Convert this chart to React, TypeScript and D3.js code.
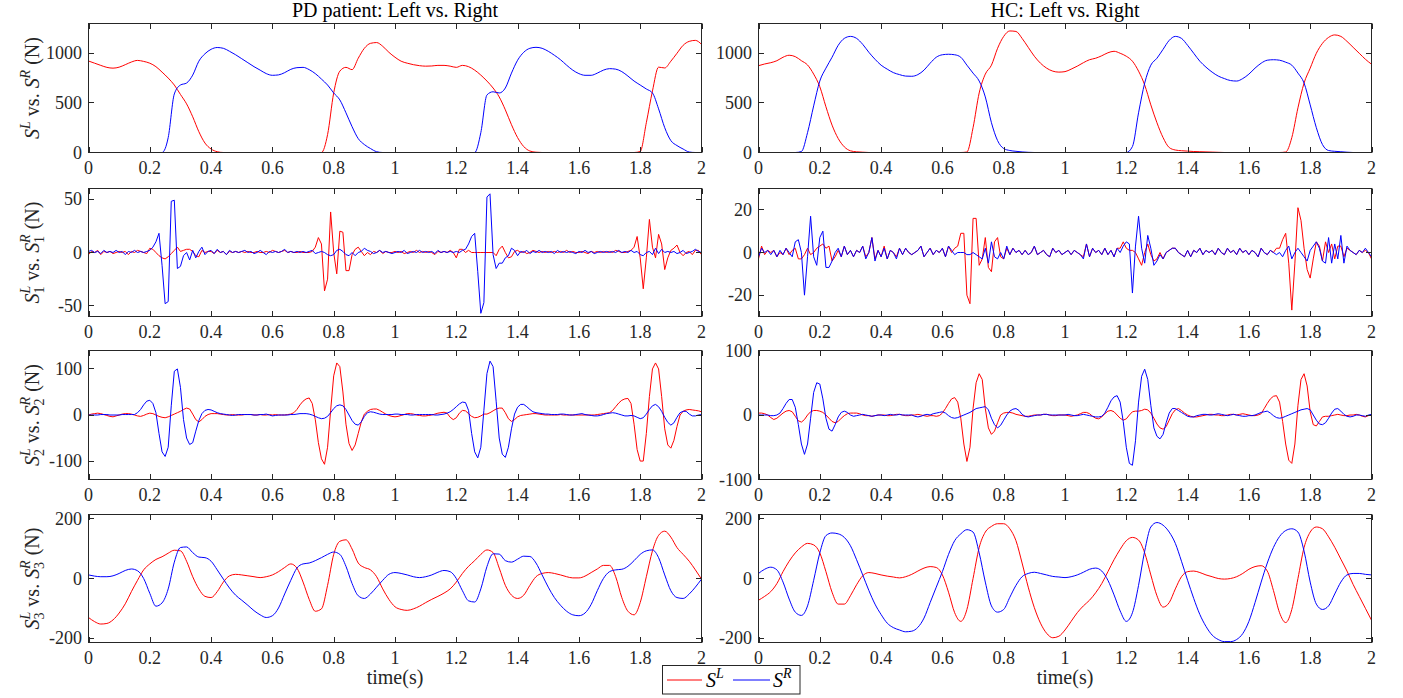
import React from 'react';
import * as d3 from 'd3';

// ---------------- data ----------------
const timeTicks = [0, 0.2, 0.4, 0.6, 0.8, 1, 1.2, 1.4, 1.6, 1.8, 2];
const timeTickLabels = ['0', '0.2', '0.4', '0.6', '0.8', '1', '1.2', '1.4', '1.6', '1.8', '2'];
const coarseStep = 0.02; // rows 1 and 4
const fineStep = 0.01; // rows 2 and 3

// Row 1: S (N), PD patient
const pdS_L = [922, 900, 878, 858, 850, 860, 885, 912, 928, 918, 900, 865, 810, 750, 680, 585, 490, 360, 210, 95, 35, 8, 0,
  0, 0, 0, 0, 0, 0, 0, 0, 0, 0, 0, 0, 0, 0, 0, 0,
  180, 600, 820, 858, 835, 950, 1050, 1100, 1108, 1070, 1010, 960, 920, 900, 885, 875, 870, 872, 878, 878, 870, 858, 878, 865, 830, 780, 720, 650, 560, 430, 280, 150, 60, 15, 3, 0,
  0, 0, 0, 0, 0, 0, 0, 0, 0, 0, 0, 0, 0, 0, 0,
  10, 300, 620, 860, 852, 920, 1000, 1080, 1120, 1130, 1090];
const pdS_R = [0, 0, 0, 0, 0, 0, 0, 0, 0, 0, 0, 0, 0,
  150, 590, 680, 700, 780, 920, 995, 1040, 1058, 1050, 1020, 985, 945, 905, 865, 830, 795, 778, 782, 805, 838, 855, 858, 835, 795, 740, 680, 600, 530, 400, 260, 140, 80, 40, 8, 0,
  0, 0, 0, 0, 0, 0, 0, 0, 0, 0, 0, 0, 0, 0, 0,
  200, 580, 612, 600, 650, 800, 930, 1010, 1050, 1060, 1050, 1020, 980, 935, 880, 830, 795, 778, 778, 800, 830, 845, 840, 815, 770, 720, 680, 640, 600, 440, 250, 120, 70, 35, 5, 0, 0];
// Row 1: S (N), HC
const hcS_L = [875, 892, 905, 925, 960, 980, 966, 925, 882, 790, 663, 461, 276, 141, 57, 17, 7, 3,
  0, 0, 0, 0, 0, 0, 0, 0, 0, 0, 0, 0, 0, 0, 0, 0,
  5, 250, 600, 790, 880, 1050, 1170, 1225, 1220, 1150, 1060, 970, 900, 850, 820, 810, 815, 840, 870, 905, 935, 950, 975, 1005, 1020, 1000, 970, 920, 820, 680, 480, 300, 150, 50, 25, 18, 14, 10, 8, 6, 4, 2,
  0, 0, 0, 0, 0, 0, 0, 0, 0, 0,
  5, 150, 450, 700, 850, 1000, 1100, 1160, 1185, 1170, 1120, 1060, 1000, 940, 890];
const hcS_R = [0, 0, 0, 0, 0, 0, 0,
  10, 200, 470, 720, 850, 960, 1080, 1150, 1170, 1150, 1090, 1010, 940, 880, 840, 805, 785, 770, 768, 785, 830, 900, 960, 985, 990, 985, 960, 880, 800, 720, 560, 300, 120, 40, 20, 12, 6, 2,
  0, 0, 0, 0, 0, 0, 0, 0, 0, 0, 0, 0, 0, 0, 0,
  0, 60, 400, 700, 880, 950, 1040, 1130, 1170, 1150, 1080, 1000, 920, 860, 810, 770, 745, 725, 720, 745, 790, 850, 900, 930, 935, 930, 910, 880, 800, 700, 480, 250, 80, 20, 12, 8, 3, 0, 0, 0, 0];

// Row 2: S1 (N)
const pdS1_L = [
  -2, 1, 0, 2, -2, 1, 0, 1, -1, 0,
  1, 0, 1, -2, 1, 0, 2, 1, 0, -1,
  4, 3, 0, -3, -5, -6, -4, -1, 2, 5,
  1, 2, 3, 3, 1, -3, -4, 2, 0, 1,
  1, -1, 2, 0, 1, -2, 1, 0, 1, 0,
  1, 0, 1, 0, 0, 1, 0, 0, 1, 0,
  2, 1, 0, 1, 2, 0, 1, 0, 0, 1,
  0, 0, 0, 1, 5, 14, 8, -36, -25, 38,
  0, -20, 20, 19, -17, -17, -2, 3, 5, 1,
  -3, 0, -2, 1, 0, 2, -1, 1, 0, 0,
  1, 0, 1, -1, 0, 1, 0, 2, 0, 1,
  0, 1, 0, -2, 1, 0, 1, 0, 2, 0,
  -5, 3, 3, 0, 2, 0, 0, 0, 0, 0,
  0, 0, 0, -3, 3, 6, 0, -5, -4, 1,
  2, 0, 1, -1, 0, 2, 1, 0, 1, 0,
  1, 0, 1, 0, 1, 0, 2, 0, 1, 0,
  0, 1, 0, -1, 1, 0, 1, 0, 1, 0,
  1, 0, 2, 1, 0, 0, 1, 2, 5, 15,
  -5, -34, -5, 31, 5, -5, 17, 8, -16, -5,
  2, 4, 7, 0, -3, 0, 1, -2, 2, 2,
  -2];
const pdS1_R = [
  1, 2, 0, 1, -1, 2, 0, 1, 0, 2,
  0, 1, -2, 1, 0, 2, 0, 1, 0, 1,
  2, 5, 10, 18, -12, -48, -46, 48, 49, -15,
  -13, -3, 0, -7, 2, -5, 1, 5, -2, 1,
  2, -1, 3, 0, 1, -2, 2, 0, 1, 0,
  1, 2, 0, 1, -1, 0, 2, 0, -2, 1,
  0, 1, 0, 1, 3, 0, 1, 0, 1, 0,
  1, 0, 1, 2, -1, 0, 1, 0, -2, -3,
  -2, 2, 3, 1, -2, -3, 0, -3, 0, 1,
  4, 2, 1, -1, 0, 2, 0, 1, 0, -1,
  0, 1, 0, 2, -1, 0, 1, 0, 2, 0,
  1, 0, 1, -1, 2, 0, 1, 0, 1, 0,
  1, 0, 2, 3, 8, 15, 18, -18, -57, -47,
  52, 55, -2, -15, -10, -10, -5, -3, 4, 2,
  -3, 1, 0, 2, -1, 1, 0, 2, 0, 1,
  0, 1, -1, 2, 0, 1, 0, 1, 0, -1,
  1, 0, 2, 0, 1, -1, 0, 1, 0, 1,
  0, 1, 0, 2, 0, 1, 0, 2, 0, 1,
  -2, -3, 0, 1, -2, 4, -1, 3, 0, 1,
  0, 1, -1, 0, 2, -1, 0, 1, 3, 1,
  0];
const hcS1_L = [
  -3, 3, -1, 1, 0, 1, -2, 0, -1, 2,
  -1, 1, 2, -3, -3, -1, 2, -1, 0, 2,
  3, 4, 2, 3, -4, -2, 1, -2, 3, -1,
  1, -2, 1, 0, 3, -2, 0, 7, -3, 1,
  -2, 3, -3, 1, 0, -2, 2, -1, 2, 0,
  -1, 0, 1, 3, -2, 0, 2, -1, 1, 0,
  2, -2, 3, 0, 2, 3, 9, 9, -20, -24,
  16, 16, -6, -3, 7, -7, -9, 5, 7, -2,
  -3, 2, -1, 2, 0, 1, -1, 1, -1, 0,
  3, -1, 0, 1, -1, -2, 2, 0, 1, -1,
  0, 1, -1, 1, 0, -1, -2, 4, -2, 2,
  0, 1, -1, 2, -1, 1, -2, 2, 2, 5,
  2, 1, 1, 0, -3, -6, 0, 4, -1, -4,
  -3, 0, -3, 0, 1, 2, 2, 0, -1, -2,
  1, -2, 1, 0, 2, -1, 1, 0, 1, -1,
  2, 0, -1, 2, 0, 1, -1, 2, 0, 1,
  -1, 1, 0, -2, 2, 0, -1, 1, 0, 2,
  2, 6, 9, -5, -27, -5, 21, 15, 2, -8,
  -12, -3, 5, 3, -4, 5, 0, 4, -3, 3,
  3, -2, 2, 1, 0, -1, 1, 0, 1, 0,
  -3];
const hcS1_R = [
  -2, 2, 0, 1, -1, 1, -2, 1, -1, 2,
  0, -2, 5, 6, 0, -20, -2, 17, -2, -6,
  7, 10, -7, -7, -4, 0, 2, -2, 3, -1,
  1, -2, 1, 0, 3, -3, 0, 7, -4, 1,
  -2, 2, -3, 1, 0, -3, 2, -1, 2, 0,
  -1, 0, 1, 3, -2, 0, 2, -1, 1, 0,
  2, -2, 3, 1, -1, 0, 0, 0, -1, -1,
  0, -1, -2, -3, 2, -5, 5, -2, -3, 0,
  -3, 3, -1, 2, 0, 1, -1, 1, -1, 0,
  3, -1, 0, 1, -1, -2, 2, 0, 1, -1,
  0, 1, -1, 1, 0, -1, -3, 4, -2, 2,
  0, 1, -1, 2, -1, 1, -2, 2, 0, 3,
  5, 4, -19, 3, 17, 2, -5, 8, 2, -6,
  -4, -1, -3, 0, 1, 2, 2, 0, -1, -2,
  1, -2, 1, 0, 2, -1, 1, 0, 1, -1,
  2, 0, -1, 2, 0, 1, -1, 2, 0, 1,
  -1, 1, 0, -2, 2, 0, -1, 1, 0, -1,
  0, -2, 1, 3, -3, 0, 2, 0, -2, -4,
  1, 3, 5, 2, -4, -5, 7, -5, 4, -3,
  8, -5, 3, 1, 0, -1, 1, 0, 2, 0,
  -2];

// Row 3: S2 (N)
const pdS2_L = [
  0, 2, 3, 4, 3, 1, -1, -3, -4, -2,
  0, 2, 3, 3, 2, 0, -2, -3, -1, 2,
  4, 3, 0, -3, -5, -6, -4, -1, 2, 5,
  8, 12, 15, 13, 2, -10, -15, -10, -3, 1,
  3, 3, 3, 2, 1, 0, 0, 1, 0, 0,
  0, 1, 1, 1, 0, 0, 1, 0, 0, 1,
  0, 1, 0, 0, 0, 1, 2, 5, 12, 22,
  30, 35, 37, 25, -10, -60, -95, -107, -70, 10,
  85, 113, 105, 50, -20, -62, -77, -65, -40, -15,
  2, 8, 12, 13, 13, 10, 6, 2, -1, -3,
  -4, -3, -1, 1, 3, 3, 2, 0, -1, -2,
  -2, -1, 0, 2, 4, 5, 6, 4, -5, -10,
  -6, 4, 10, 9, 3, -3, -6, -5, -2, 2,
  2, 5, 9, 13, 15, 15, 5, -8, -14, -10,
  -4, -1, 0, 1, 2, 3, 3, 2, 1, 0,
  0, 0, 0, 0, 1, 0, 0, 0, 0, 0,
  0, 0, 0, 0, 0, 0, 1, 2, 3, 4,
  5, 10, 18, 26, 32, 35, 36, 25, -20, -75,
  -100, -100, -40, 40, 100, 113, 100, 40, -30, -65,
  -72, -55, -25, 0, 8, 11, 12, 11, 10, 9,
  7];
const pdS2_R = [
  0, 0, 0, 0, 1, 1, 1, 0, 0, 0,
  0, 1, 1, 1, 1, 1, 5, 12, 22, 30,
  32, 25, 5, -40, -80, -90, -70, 20, 95, 100,
  60, -10, -50, -64, -60, -35, -12, 3, 10, 12,
  11, 8, 5, 3, 2, 1, 0, -1, 0, 1,
  1, 1, 1, 1, 0, 0, 1, 1, 2, 0,
  -2, -1, 0, 0, 0, 0, 1, 1, 2, 3,
  3, 3, 2, 0, -3, -6, -8, -7, -3, 5,
  14, 20, 22, 20, 12, 0, -12, -20, -22, -15,
  -3, 5, 7, 6, 4, 2, 1, 1, 1, 1,
  2, 2, 1, 1, 1, 0, 0, 1, 1, 1,
  1, 1, 1, 0, 0, 1, 2, 4, 7, 12,
  18, 24, 28, 27, 10, -40, -80, -93, -70, 10,
  90, 117, 105, 30, -50, -85, -92, -70, -30, 2,
  17, 23, 23, 18, 12, 7, 5, 4, 3, 2,
  2, 1, 1, 1, 2, 2, 1, 0, 0, 1,
  2, 3, 1, 0, -1, -2, -2, -1, 1, 3,
  4, 5, 4, 2, 0, -2, -2, -1, -2, -5,
  -8, -6, 2, 12, 20, 23, 18, 8, -5, -16,
  -22, -17, -5, 5, 8, 8, 2, -2, -2, 0,
  1];
const hcS2_L = [
  3, 3, 2, 0, -4, -7, -5, -1, 3, 6,
  7, 5, -2, -9, -11, -7, 0, 5, 7, 7,
  6, 4, 0, -5, -10, -12, -10, -5, -1, 2,
  3, 3, 3, 2, 0, -1, -1, -2, -1, 0,
  0, 0, -1, -1, 0, 1, 1, 0, -1, -1,
  0, 0, 1, 0, -1, -2, -1, -1, -2, -1,
  3, 10, 18, 25, 27, 20, -5, -45, -72, -50,
  10, 50, 64, 55, 10, -20, -30, -25, -12, 0,
  3, 4, 4, 3, 1, 0, -1, -2, -2, -1,
  0, 0, 0, 1, 1, 0, -1, -1, 0, 0,
  0, -1, -2, -1, 0, 2, 4, 4, 2, -2,
  -5, -6, -3, 2, 6, 7, 5, 0, -5, -8,
  -6, 0, 5, 6, 6, 7, 9, 8, 3, -5,
  -14, -20, -22, -18, -8, 2, 8, 10, 7, 3,
  0, -2, -3, -3, -2, -1, 0, 1, 1, 0,
  0, -1, -1, 0, 1, 1, 0, 1, 2, 1,
  0, -1, -1, 0, 2, 10, 18, 25, 29, 30,
  20, -10, -45, -70, -75, -45, 15, 55, 64, 45,
  5, -15, -17, -10, -3, -2, -2, -1, 0, 1,
  0, -1, -1, 0, 0, 1, 0, -2, -3, -1,
  0];
const hcS2_R = [
  0, 0, 0, 0, -1, -1, 0, 3, 10, 18,
  24, 24, 12, -15, -45, -61, -45, -5, 35, 50,
  48, 25, -5, -22, -25, -15, -3, 4, 6, 4,
  0, -2, -1, 0, 1, 0, -1, -2, -1, 0,
  0, -1, 0, 1, 0, 0, 1, 0, 0, 0,
  0, -2, -3, -2, 0, 1, 0, 2, 3, 4,
  5, 3, -1, -4, -5, -4, -2, 0, 2, 4,
  7, 10, 11, 12, 13, 8, -5, -15, -20, -16,
  -8, 0, 6, 9, 10, 7, 1, -2, -3, -2,
  -1, 0, 0, 1, 1, 0, 0, 0, 0, 0,
  0, 1, 0, -1, -1, 0, 1, 0, -1, -2,
  -3, -3, -2, 3, 12, 22, 28, 30, 20, -10,
  -50, -75, -78, -40, 20, 60, 71, 55, 15, -20,
  -33, -37, -30, -12, 3, 10, 10, 7, 4, 1,
  -2, -3, -3, -1, 0, 1, 1, 0, 0, 1,
  2, 1, 0, -1, 0, 1, 0, -1, -2, -2,
  -1, -1, 0, 2, 4, 5, 6, 3, -1, -4,
  -5, -4, -2, 0, 2, 4, 6, 8, 9, 10,
  8, 0, -8, -14, -15, -12, -5, 3, 9, 10,
  6, 1, -2, -3, -2, 0, 0, -1, -2, 0,
  1];

// Row 4: S3 (N)
const pdS3_L = [
  -131, -145, -153, -151, -139, -116, -85, -44, -6, 29,
  49, 64, 73, 85, 95, 93, 58, 6, -35, -60,
  -64, -44, -12, 9, 14, 12, 9, 6, 3, 6,
  12, 23, 37, 49, 35, -12, -70, -110, -102, -23,
  81, 125, 130, 99, 52, 37, 29, 6, -35, -70,
  -95, -104, -107, -102, -93, -81, -70, -60, -49, -35,
  -12, 17, 41, 60, 81, 96, 87, 35, -23, -56,
  -67, -56, -23, 6, 17, 20, 17, 12, 6, 2,
  2, 8, 20, 32, 44, 44, 6, -64, -110, -122,
  -81, 6, 93, 145, 159, 139, 104, 81, 58, 29,
  -2];
const pdS3_R = [
  12, 8, 6, 6, 9, 17, 27, 32, 26, 0,
  -50, -93, -82, -35, 55, 104, 106, 87, 72, 70,
  58, 29, -2, -32, -56, -73, -90, -108, -122, -131,
  -125, -99, -52, -6, 35, 49, 52, 60, 70, 81,
  89, 81, 41, -17, -58, -67, -52, -29, -6, 14,
  20, 17, 12, 6, 3, 6, 12, 21, 27, 23,
  0, -41, -75, -79, -35, 40, 83, 82, 60, 55,
  65, 75, 74, 52, 12, -29, -64, -90, -110, -122,
  -125, -116, -87, -41, 0, 23, 29, 31, 41, 60,
  81, 93, 96, 70, 12, -41, -64, -67, -52, -29,
  -2];
const hcS3_L = [
  -73, -60, -44, -17, 23, 58, 86, 106, 118, 113,
  86, 23, -46, -86, -86, -58, -21, 9, 20, 17,
  12, 8, 5, 2, 6, 14, 25, 35, 40, 37,
  12, -46, -115, -144, -104, 0, 104, 156, 175, 184,
  184, 167, 127, 52, -29, -98, -150, -184, -199, -194,
  -173, -144, -115, -92, -73, -48, -17, 23, 63, 98,
  127, 138, 129, 86, 12, -58, -96, -81, -35, 6,
  23, 25, 20, 12, 6, 0, -2, 0, 6, 17,
  31, 40, 43, 25, -40, -115, -148, -104, 0, 104,
  156, 173, 167, 140, 105, 65, 25, -20, -60, -100,
  -140];
const hcS3_R = [
  17, 31, 38, 29, -12, -69, -113, -124, -92, -6,
  86, 144, 153, 150, 138, 110, 63, 12, -40, -86,
  -121, -150, -165, -173, -179, -177, -164, -133, -81, -29,
  23, 81, 127, 150, 164, 156, 86, -12, -92, -113,
  -104, -63, -23, 6, 17, 21, 17, 12, 7, 5,
  3, 6, 12, 21, 31, 35, 25, -6, -55, -109,
  -144, -115, -23, 92, 173, 188, 179, 156, 118, 58,
  -6, -67, -121, -161, -190, -205, -212, -212, -205, -185,
  -144, -81, -12, 52, 104, 141, 161, 167, 156, 92,
  -12, -86, -104, -92, -52, -12, 12, 17, 17, 14,
  12];

const colTitles = ['PD patient: Left vs. Right', 'HC: Left vs. Right'];
const legendLabels = ['L', 'R'];

// ---------------- layout / style ----------------
const W = 1403;
const H = 698;
const AX = '#262626';
const RED = '#ff0000';
const BLUE = '#0000ff';
const FONT = '"Liberation Serif", "Times New Roman", Times, serif';
const cols = [[88.5, 701.5], [758.5, 1371.5]];
const rows = [[23.5, 152.5], [188.5, 316.5], [350.5, 479.5], [514.5, 642.5]];
const TICK = 5.5;

type PanelSpec = {
  row: number; col: number; L: number[]; R: number[]; step: number;
  domain: [number, number]; ticks: number[]; smooth: boolean;
};

const panels: PanelSpec[] = [
  { row: 0, col: 0, L: pdS_L, R: pdS_R, step: coarseStep, domain: [0, 1300], ticks: [0, 500, 1000], smooth: true },
  { row: 0, col: 1, L: hcS_L, R: hcS_R, step: coarseStep, domain: [0, 1300], ticks: [0, 500, 1000], smooth: true },
  { row: 1, col: 0, L: pdS1_L, R: pdS1_R, step: fineStep, domain: [-60, 60], ticks: [-50, 0, 50], smooth: false },
  { row: 1, col: 1, L: hcS1_L, R: hcS1_R, step: fineStep, domain: [-30, 30], ticks: [-20, 0, 20], smooth: false },
  { row: 2, col: 0, L: pdS2_L, R: pdS2_R, step: fineStep, domain: [-140, 140], ticks: [-100, 0, 100], smooth: false },
  { row: 2, col: 1, L: hcS2_L, R: hcS2_R, step: fineStep, domain: [-100, 100], ticks: [-100, 0, 100], smooth: false },
  { row: 3, col: 0, L: pdS3_L, R: pdS3_R, step: coarseStep, domain: [-215, 215], ticks: [-200, 0, 200], smooth: true },
  { row: 3, col: 1, L: hcS3_L, R: hcS3_R, step: coarseStep, domain: [-215, 215], ticks: [-200, 0, 200], smooth: true },
];

function Panel({ p, idx }: { p: PanelSpec; idx: number }) {
  const [x0, x1] = cols[p.col];
  const [y0, y1] = rows[p.row];
  const xs = d3.scaleLinear().domain([0, 2]).range([x0, x1]);
  const ys = d3.scaleLinear().domain(p.domain).range([y1, y0]);
  const line = d3.line<number>()
    .x((_, i) => xs(i * p.step))
    .y((v) => ys(v))
    .curve(p.smooth ? d3.curveMonotoneX : d3.curveLinear);
  const clipId = `clip${idx}`;
  return (
    <g>
      <defs>
        <clipPath id={clipId}>
          <rect x={x0} y={y0} width={x1 - x0} height={y1 - y0} />
        </clipPath>
      </defs>
      <rect x={x0} y={y0} width={x1 - x0} height={y1 - y0} fill="#fff" stroke="none" />
      <g clipPath={`url(#${clipId})`}>
        <path d={line(p.L) || ''} fill="none" stroke={RED} strokeWidth={1} />
        <path d={line(p.R) || ''} fill="none" stroke={BLUE} strokeWidth={1} />
      </g>
      <rect x={x0} y={y0} width={x1 - x0} height={y1 - y0} fill="none" stroke={AX} strokeWidth={1} />
      {timeTicks.map((t, i) => {
        const x = Math.round(xs(t)) + 0.5;
        return (
          <g key={'xt' + i}>
            <line x1={x} x2={x} y1={y1} y2={y1 - TICK} stroke={AX} />
            <line x1={x} x2={x} y1={y0} y2={y0 + TICK} stroke={AX} />
            <text x={xs(t)} y={y1 + 21.5} textAnchor="middle" fontSize={18} fill={AX} fontFamily={FONT}>
              {timeTickLabels[i]}
            </text>
          </g>
        );
      })}
      {p.ticks.map((v, i) => {
        const y = Math.round(ys(v) - 0.5) + 0.5;
        return (
          <g key={'yt' + i}>
            <line x1={x0} x2={x0 + TICK} y1={y} y2={y} stroke={AX} />
            <line x1={x1} x2={x1 - TICK} y1={y} y2={y} stroke={AX} />
            <text x={x0 - 6.5} y={ys(v) + 6} textAnchor="end" fontSize={18} fill={AX} fontFamily={FONT}>
              {String(v)}
            </text>
          </g>
        );
      })}
    </g>
  );
}

function YLabel({ row }: { row: number }) {
  const [y0, y1] = rows[row];
  const cy = (y0 + y1) / 2;
  const sub = row > 0 ? String(row) : null;
  const part = (sup: string, trail: string) =>
    sub ? (
      <>
        <tspan fontStyle="italic">S</tspan>
        <tspan fontSize={14} dy={5}>{sub}</tspan>
        <tspan fontSize={14} fontStyle="italic" dx={-7} dy={-14}>{sup}</tspan>
        <tspan dy={9}>{trail}</tspan>
      </>
    ) : (
      <>
        <tspan fontStyle="italic">S</tspan>
        <tspan fontSize={14} fontStyle="italic" dy={-9}>{sup}</tspan>
        <tspan dy={9}>{trail}</tspan>
      </>
    );
  return (
    <text transform={`translate(39,${cy}) rotate(-90)`} textAnchor="middle" fontSize={20} fill={AX} fontFamily={FONT}>
      {part('L', '\u00a0vs.\u00a0')}
      {part('R', '\u00a0(N)')}
    </text>
  );
}

export default function App() {
  return (
    <svg width={W} height={H} viewBox={`0 0 ${W} ${H}`} style={{ position: 'absolute', left: 0, top: 0, background: '#fff' }}>
      <rect x={0} y={0} width={W} height={H} fill="#fff" />
      {panels.map((p, i) => <Panel key={i} p={p} idx={i} />)}
      {[0, 1, 2, 3].map((r) => <YLabel key={r} row={r} />)}
      {colTitles.map((t, c) => (
        <text key={c} x={(cols[c][0] + cols[c][1]) / 2} y={17} textAnchor="middle" fontSize={20} fill="#000" fontFamily={FONT}>
          {t}
        </text>
      ))}
      {cols.map((c, i) => (
        <text key={'xl' + i} x={(c[0] + c[1]) / 2} y={684} textAnchor="middle" fontSize={20} fill={AX} fontFamily={FONT}>
          time(s)
        </text>
      ))}
      {/* legend */}
      <g>
        <rect x={662.5} y={665.5} width={137.5} height={28.5} fill="#fff" stroke={AX} strokeWidth={1} />
        <line x1={667} x2={702} y1={680} y2={680} stroke={RED} />
        <text x={706} y={687} fontSize={20} fill="#000" fontFamily={FONT}>
          <tspan fontStyle="italic">S</tspan>
          <tspan fontSize={14} fontStyle="italic" dy={-9}>{legendLabels[0]}</tspan>
        </text>
        <line x1={733} x2={770} y1={680} y2={680} stroke={BLUE} />
        <text x={773} y={687} fontSize={20} fill="#000" fontFamily={FONT}>
          <tspan fontStyle="italic">S</tspan>
          <tspan fontSize={14} fontStyle="italic" dy={-9}>{legendLabels[1]}</tspan>
        </text>
      </g>
    </svg>
  );
}
